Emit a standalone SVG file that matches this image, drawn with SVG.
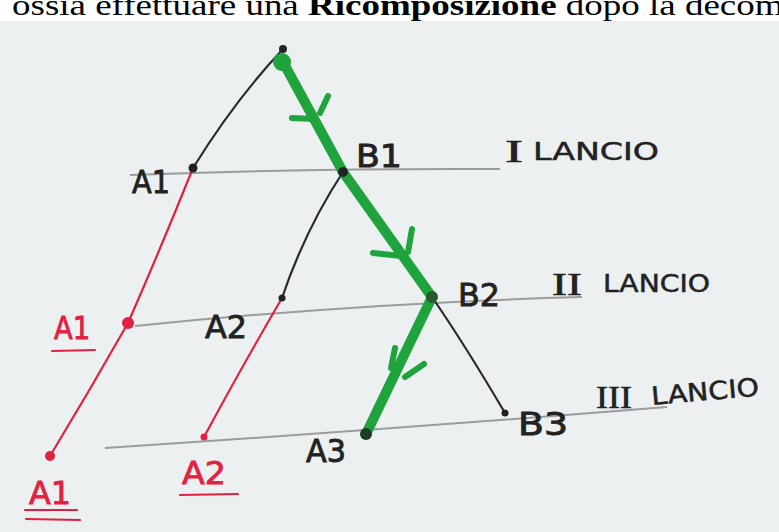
<svg xmlns="http://www.w3.org/2000/svg" width="779" height="532" viewBox="0 0 779 532">
<style>
.ink{fill:none;stroke:#2a2a2a;stroke-width:2.2;stroke-linecap:round}
.red{fill:none;stroke:#e3203f;stroke-width:2.2;stroke-linecap:round}
.grn{fill:none;stroke:#1fa33c;stroke-width:10;stroke-linecap:round;stroke-linejoin:round}
.barb{fill:none;stroke:#1fa33c;stroke-width:6;stroke-linecap:round}
.rule{fill:none;stroke:#9a9c9e;stroke-width:2}
.lbl{font-family:"DejaVu Sans","Liberation Sans",sans-serif;font-size:32px;fill:#222;stroke:#222;stroke-width:0.9}
.rlbl{font-family:"DejaVu Sans","Liberation Sans",sans-serif;font-size:32px;fill:#e3203f;stroke:#e3203f;stroke-width:0.9}
.lan{font-family:"DejaVu Sans","Liberation Sans",sans-serif;font-size:25px;fill:#222;stroke:#222;stroke-width:0.5}
.rom{font-family:"Liberation Serif",serif;font-size:32px;fill:#222;stroke:#222;stroke-width:0.6}
</style>
<rect width="779" height="532" fill="#ffffff"/>
<rect x="0" y="21" width="779" height="511" fill="#ecf0f1"/>
<text x="12" y="15" font-family="Liberation Serif,serif" font-size="30" fill="#000" textLength="790" lengthAdjust="spacingAndGlyphs">ossia effettuare una <tspan font-weight="bold">Ricomposizione</tspan> dopo la decomp</text>

<g id="rules">
<path class="rule" d="M130 175 Q320 168 500 169"/>
<path class="rule" d="M135 326 Q360 303 582 297"/>
<path class="rule" d="M105 448 Q380 430 667 407"/>
</g>

<g id="connectors">
<path class="ink" d="M283 49 Q235 100 193 168"/>
<path class="ink" d="M343 172 Q305 230 282 298"/>
<path class="ink" d="M432 297 Q465 345 505 413"/>
<path class="red" d="M193 168 Q160 250 128 323"/>
<path class="red" d="M128 323 Q90 390 50 456"/>
<path class="red" d="M282 298 Q240 370 204 437"/>
<path class="grn" d="M283 62 L343 172 L432 297 L366 434"/>
<path class="barb" d="M292 118 L314 119 M328 96 L320 113"/>
<path class="barb" d="M373 253 L401 256 M412 229 L408 252"/>
<path class="barb" d="M395 348 L391 368 M424 364 L405 377"/>
</g>

<g id="root"><circle cx="283" cy="49" r="4" fill="#222"/><circle cx="282" cy="62" r="9" fill="#1fa33c"/></g>
<g id="A1"><circle cx="193" cy="168" r="4.5" fill="#222"/><text class="lbl" x="132" y="193" textLength="38" lengthAdjust="spacingAndGlyphs">A1</text></g>
<g id="B1"><circle cx="343" cy="172" r="5" fill="#222"/><text class="lbl" x="356" y="167" textLength="46" lengthAdjust="spacingAndGlyphs">B1</text></g>
<g id="B2"><circle cx="432" cy="297" r="6" fill="#2a5a30"/><text class="lbl" x="458" y="306" textLength="42" lengthAdjust="spacingAndGlyphs">B2</text></g>
<g id="A2"><circle cx="282" cy="298" r="3.5" fill="#222"/><text class="lbl" x="205" y="338" textLength="42" lengthAdjust="spacingAndGlyphs">A2</text></g>
<g id="B3"><circle cx="505" cy="413" r="3.5" fill="#222"/><text class="lbl" x="518" y="435" textLength="50" lengthAdjust="spacingAndGlyphs">B3</text></g>
<g id="A3"><circle cx="366" cy="434" r="6" fill="#1d3d22"/><text class="lbl" x="306" y="462" textLength="40" lengthAdjust="spacingAndGlyphs">A3</text></g>
<g id="A1r"><circle cx="128" cy="323" r="6" fill="#e3203f"/><text class="rlbl" x="54" y="339" textLength="36" lengthAdjust="spacingAndGlyphs">A1</text><path class="red" d="M52 351 L95 350"/></g>
<g id="A1rr"><circle cx="50" cy="456" r="5" fill="#e3203f"/><text class="rlbl" x="29" y="504" textLength="42" lengthAdjust="spacingAndGlyphs">A1</text><path class="red" d="M25 510 L77 510 M26 519 L80 520"/></g>
<g id="A2r"><circle cx="204" cy="437" r="3.5" fill="#e3203f"/><text class="rlbl" x="182" y="484" textLength="44" lengthAdjust="spacingAndGlyphs">A2</text><path class="red" d="M180 495 L238 494"/></g>

<g id="levels">
<text class="rom" x="505" y="162" textLength="18" lengthAdjust="spacingAndGlyphs">I</text><text class="lan" x="533" y="160" textLength="126" lengthAdjust="spacingAndGlyphs">LANCIO</text>
<text class="rom" x="552" y="295" textLength="30" lengthAdjust="spacingAndGlyphs">II</text><text class="lan" x="603" y="292" textLength="107" lengthAdjust="spacingAndGlyphs">LANCIO</text>
<text class="rom" x="596" y="408" textLength="36" lengthAdjust="spacingAndGlyphs">III</text><text class="lan" x="652" y="405" transform="rotate(-5 652 405)" textLength="108" lengthAdjust="spacingAndGlyphs">LANCIO</text>
</g>
</svg>
